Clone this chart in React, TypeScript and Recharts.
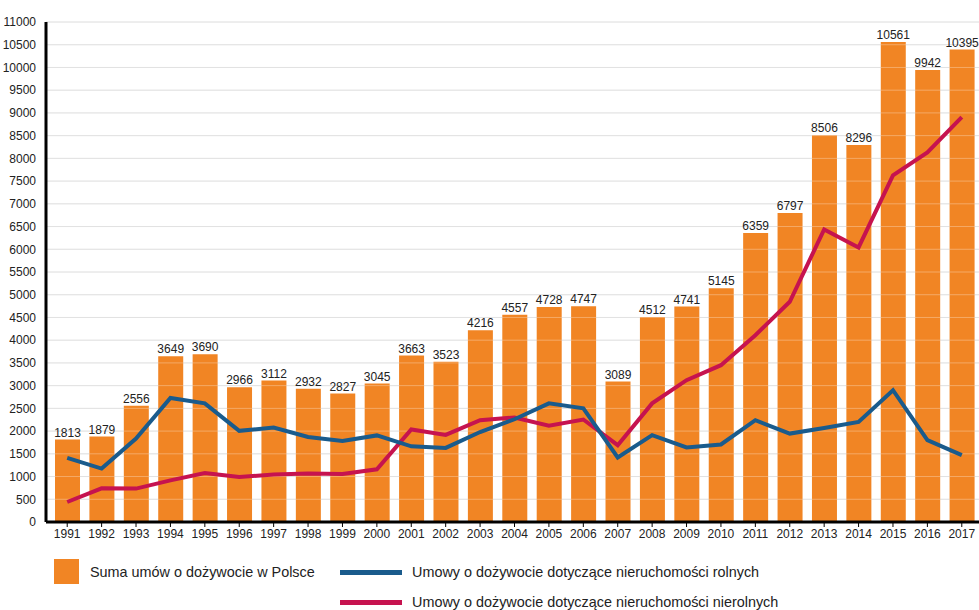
import React from "react";
import {
  ComposedChart,
  Bar,
  Line,
  XAxis,
  YAxis,
  CartesianGrid,
  LabelList,
  ReferenceLine,
} from "recharts";

const years = [
  "1991", "1992", "1993", "1994", "1995", "1996", "1997", "1998", "1999",
  "2000", "2001", "2002", "2003", "2004", "2005", "2006", "2007", "2008",
  "2009", "2010", "2011", "2012", "2013", "2014", "2015", "2016", "2017",
];

const total = [
  1813, 1879, 2556, 3649, 3690, 2966, 3112, 2932, 2827, 3045, 3663, 3523, 4216,
  4557, 4728, 4747, 3089, 4512, 4741, 5145, 6359, 6797, 8506, 8296, 10561, 9942,
  10395,
];

const agricultural = [
  1410, 1175, 1835, 2730, 2610, 2005, 2080, 1870, 1785, 1905, 1665, 1630, 1980,
  2260, 2610, 2500, 1420, 1910, 1640, 1705, 2240, 1945, 2070, 2200, 2900, 1800,
  1470,
];

const nonAgricultural = [
  440, 740, 735, 915, 1075, 990, 1045, 1065, 1055, 1160, 2035, 1915, 2240, 2300,
  2120, 2255, 1690, 2610, 3120, 3450, 4110, 4845, 6435, 6040, 7625, 8130, 8905,
];

const yTicks = [
  0, 500, 1000, 1500, 2000, 2500, 3000, 3500, 4000, 4500, 5000, 5500, 6000,
  6500, 7000, 7500, 8000, 8500, 9000, 9500, 10000, 10500, 11000,
];

const legendLabels = [
  "Suma umów o dożywocie w Polsce",
  "Umowy o dożywocie dotyczące nieruchomości rolnych",
  "Umowy o dożywocie dotyczące nieruchomości nierolnych",
];

const ORANGE = "#f18524";
const BLUE = "#1a5b8c";
const RED = "#c6134f";
const FONT = "'Liberation Sans', Arial, sans-serif";

const data = years.map((year, i) => ({
  year,
  total: total[i],
  agricultural: agricultural[i],
  nonAgricultural: nonAgricultural[i],
}));

export default function App() {
  return (
    <div
      style={{
        position: "absolute",
        left: 0,
        top: 0,
        width: 979,
        height: 610,
        background: "#fff",
        fontFamily: FONT,
        overflow: "hidden",
      }}
    >
      <ComposedChart
        width={979}
        height={552}
        data={data}
        margin={{ top: 22, right: 0, bottom: 0, left: 0 }}
        barCategoryGap={0}
      >
        <CartesianGrid vertical={false} stroke="#d6d6d6" strokeWidth={1} />
        <XAxis
          dataKey="year"
          padding={{ left: 4, right: 0 }}
          axisLine={{ stroke: "#000", strokeWidth: 3 }}
          tickLine={{ stroke: "#000", strokeWidth: 1 }}
          tickSize={5}
          tick={{ fontSize: 12, fill: "#222", fontFamily: FONT }}
          interval={0}
          height={30}
        />
        <YAxis
          domain={[0, 11000]}
          ticks={yTicks}
          interval={0}
          width={46}
          axisLine={{ stroke: "#000", strokeWidth: 3 }}
          tickLine={false}
          tickMargin={4}
          tick={{ fontSize: 12, fill: "#222", fontFamily: FONT }}
        />
        <Bar dataKey="total" fill={ORANGE} barSize={25} isAnimationActive={false}>
          <LabelList
            dataKey="total"
            position="top"
            offset={3}
            style={{ fontSize: 12, fill: "#222", fontFamily: FONT }}
          />
        </Bar>
        {yTicks.slice(1).map((t) => (
          <ReferenceLine key={t} y={t} stroke="#ffffff" strokeOpacity={0.3} />
        ))}
        <Line
          dataKey="nonAgricultural"
          stroke={RED}
          strokeWidth={4}
          dot={false}
          type="linear"
          isAnimationActive={false}
        />
        <Line
          dataKey="agricultural"
          stroke={BLUE}
          strokeWidth={4}
          dot={false}
          type="linear"
          isAnimationActive={false}
        />
      </ComposedChart>

      <div style={{ position: "absolute", left: 54, top: 559, display: "flex", alignItems: "center" }}>
        <div style={{ width: 25, height: 25, background: ORANGE }} />
        <span style={{ marginLeft: 11, fontSize: 14.4, color: "#222" }}>{legendLabels[0]}</span>
      </div>
      <div style={{ position: "absolute", left: 340, top: 562, display: "flex", alignItems: "center", height: 20 }}>
        <div style={{ width: 62, height: 5, background: BLUE }} />
        <span style={{ marginLeft: 10, fontSize: 14.4, color: "#222" }}>{legendLabels[1]}</span>
      </div>
      <div style={{ position: "absolute", left: 340, top: 592, display: "flex", alignItems: "center", height: 20 }}>
        <div style={{ width: 62, height: 5, background: RED }} />
        <span style={{ marginLeft: 10, fontSize: 14.4, color: "#222" }}>{legendLabels[2]}</span>
      </div>
    </div>
  );
}
